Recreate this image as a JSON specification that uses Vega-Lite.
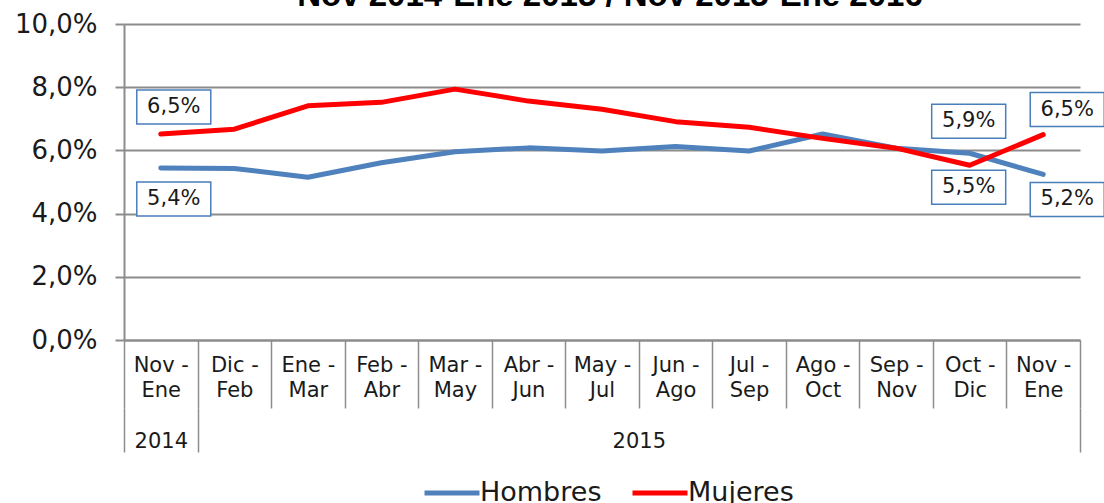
{
  "$schema": "https://vega.github.io/schema/vega-lite/v6.json",
  "width": 956,
  "height": 316,
  "autosize": "none",
  "padding": {"left": 124, "top": 24, "right": 24, "bottom": 163},
  "background": "white",
  "title": {
    "text": "Nov 2014-Ene 2015 / Nov 2015-Ene 2016",
    "font": "Liberation Sans",
    "fontSize": 33,
    "fontWeight": "bold",
    "color": "#000000",
    "anchor": "middle",
    "baseline": "alphabetic",
    "offset": -28,
    "dx": 8
  },
  "config": {
    "view": {"stroke": null},
    "font": "DejaVu Sans",
    "locale": {
      "number": {"decimal": ",", "thousands": ".", "grouping": [3], "currency": ["", " €"], "percent": "%"}
    }
  },
  "datasets": {
    "tasas": [
      {"serie": "Hombres", "periodo": "Nov - Ene 2014", "valor": 0.0544},
      {"serie": "Hombres", "periodo": "Dic - Feb 2015", "valor": 0.0543},
      {"serie": "Hombres", "periodo": "Ene - Mar 2015", "valor": 0.0515},
      {"serie": "Hombres", "periodo": "Feb - Abr 2015", "valor": 0.0561},
      {"serie": "Hombres", "periodo": "Mar - May 2015", "valor": 0.0596},
      {"serie": "Hombres", "periodo": "Abr - Jun 2015", "valor": 0.0608},
      {"serie": "Hombres", "periodo": "May - Jul 2015", "valor": 0.0598},
      {"serie": "Hombres", "periodo": "Jun - Ago 2015", "valor": 0.0612},
      {"serie": "Hombres", "periodo": "Jul - Sep 2015", "valor": 0.0598},
      {"serie": "Hombres", "periodo": "Ago - Oct 2015", "valor": 0.0652},
      {"serie": "Hombres", "periodo": "Sep - Nov 2015", "valor": 0.0607},
      {"serie": "Hombres", "periodo": "Oct - Dic 2015", "valor": 0.0591},
      {"serie": "Hombres", "periodo": "Nov - Ene 2015", "valor": 0.0524},
      {"serie": "Mujeres", "periodo": "Nov - Ene 2014", "valor": 0.0652},
      {"serie": "Mujeres", "periodo": "Dic - Feb 2015", "valor": 0.0667},
      {"serie": "Mujeres", "periodo": "Ene - Mar 2015", "valor": 0.0741},
      {"serie": "Mujeres", "periodo": "Feb - Abr 2015", "valor": 0.0752},
      {"serie": "Mujeres", "periodo": "Mar - May 2015", "valor": 0.0794},
      {"serie": "Mujeres", "periodo": "Abr - Jun 2015", "valor": 0.0756},
      {"serie": "Mujeres", "periodo": "May - Jul 2015", "valor": 0.0730},
      {"serie": "Mujeres", "periodo": "Jun - Ago 2015", "valor": 0.0691},
      {"serie": "Mujeres", "periodo": "Jul - Sep 2015", "valor": 0.0673},
      {"serie": "Mujeres", "periodo": "Ago - Oct 2015", "valor": 0.0638},
      {"serie": "Mujeres", "periodo": "Sep - Nov 2015", "valor": 0.0607},
      {"serie": "Mujeres", "periodo": "Oct - Dic 2015", "valor": 0.0553},
      {"serie": "Mujeres", "periodo": "Nov - Ene 2015", "valor": 0.0650}
    ],
    "anios": [
      {"anio": "2014", "desde": 0, "hasta": 1},
      {"anio": "2015", "desde": 1, "hasta": 13},
      {"anio": "fin", "desde": 13, "hasta": 13}
    ]
  },
  "layer": [
    {
      "data": {"name": "tasas"},
      "encoding": {
        "x": {
          "field": "periodo",
          "type": "nominal",
          "sort": null,
          "bandPosition": 0.5,
          "scale": {"type": "band", "paddingInner": 0, "paddingOuter": 0},
          "axis": {
            "title": null,
            "orient": "bottom",
            "labelAngle": 0,
            "labelExpr": "isString(datum.value) ? [split(datum.value, ' ')[0] + ' -', split(datum.value, ' ')[2]] : ''",
            "labelFont": "DejaVu Sans",
            "labelFontSize": 21,
            "labelLineHeight": 25,
            "labelColor": "#1a1a1a",
            "labelBaseline": "top",
            "labelPadding": -54,
            "labelOverlap": false,
            "labelBound": false,
            "tickBand": "extent",
            "tickSize": 68,
            "tickColor": "#8c8c8c",
            "tickWidth": 1.5,
            "domainColor": "#8c8c8c",
            "domainWidth": 2,
            "grid": false
          }
        },
        "y": {
          "field": "valor",
          "type": "quantitative",
          "scale": {"domain": [0, 0.1], "nice": false},
          "axis": {
            "title": null,
            "values": [0, 0.02, 0.04, 0.06, 0.08, 0.1],
            "format": ".1%",
            "labelFont": "DejaVu Sans",
            "labelFontSize": 26,
            "labelColor": "#1a1a1a",
            "labelPadding": 18,
            "tickSize": 9,
            "tickColor": "#8c8c8c",
            "tickWidth": 2,
            "domainColor": "#8c8c8c",
            "domainWidth": 2,
            "grid": true,
            "gridColor": "#8c8c8c",
            "gridWidth": 2
          }
        }
      },
      "layer": [
        {
          "mark": {"type": "line", "strokeWidth": 5, "strokeCap": "round", "strokeJoin": "round"},
          "encoding": {
            "color": {
              "field": "serie",
              "type": "nominal",
              "scale": {"domain": ["Hombres", "Mujeres"], "range": ["#4F81BD", "#FF0000"]},
              "legend": {
                "title": null,
                "orient": "none",
                "direction": "horizontal",
                "legendX": 298,
                "legendY": 439,
                "symbolType": "stroke",
                "symbolSize": 3025,
                "symbolStrokeWidth": 5,
                "labelFont": "DejaVu Sans",
                "labelFontSize": 27,
                "labelColor": "#1a1a1a",
                "labelOffset": -2,
                "columnPadding": 20
              }
            }
          }
        },
        {
          "transform": [{"filter": "indexof(['Nov - Ene 2014', 'Oct - Dic 2015', 'Nov - Ene 2015'], datum.periodo) >= 0"}],
          "mark": {
            "type": "point",
            "shape": "M-1,-0.46H1V0.46H-1Z",
            "size": 5476,
            "filled": false,
            "fill": "white",
            "fillOpacity": 1,
            "stroke": "#4A7EBB",
            "strokeWidth": 1.5,
            "opacity": 1,
            "xOffset": {"expr": "datum.periodo == 'Nov - Ene 2014' ? 13 : datum.periodo == 'Oct - Dic 2015' ? -1 : 24"},
            "yOffset": {"expr": "datum.periodo == 'Nov - Ene 2014' ? (datum.serie == 'Mujeres' ? -27 : 31) : datum.periodo == 'Oct - Dic 2015' ? (datum.serie == 'Hombres' ? -32 : 22) : (datum.serie == 'Mujeres' ? -25 : 25)"}
          }
        },
        {
          "transform": [{"filter": "indexof(['Nov - Ene 2014', 'Oct - Dic 2015', 'Nov - Ene 2015'], datum.periodo) >= 0"}],
          "mark": {
            "type": "text",
            "font": "DejaVu Sans",
            "fontSize": 21,
            "color": "#1a1a1a",
            "align": "center",
            "baseline": "middle",
            "xOffset": {"expr": "datum.periodo == 'Nov - Ene 2014' ? 13 : datum.periodo == 'Oct - Dic 2015' ? -1 : 24"},
            "yOffset": {"expr": "datum.periodo == 'Nov - Ene 2014' ? (datum.serie == 'Mujeres' ? -27 : 31) : datum.periodo == 'Oct - Dic 2015' ? (datum.serie == 'Hombres' ? -32 : 22) : (datum.serie == 'Mujeres' ? -25 : 25)"}
          },
          "encoding": {
            "text": {"field": "valor", "type": "quantitative", "format": ".1%"}
          }
        }
      ]
    },
    {
      "data": {"name": "anios"},
      "mark": {"type": "rule", "opacity": 0},
      "encoding": {
        "x": {
          "field": "desde",
          "type": "quantitative",
          "scale": {"domain": [0, 13], "nice": false, "zero": false},
          "axis": {
            "title": null,
            "orient": "bottom",
            "offset": 68,
            "domain": false,
            "grid": false,
            "values": [0, 0.5, 1, 7, 13],
            "labelExpr": "datum.value == 0.5 ? '2014' : datum.value == 7 ? '2015' : ''",
            "labelFont": "DejaVu Sans",
            "labelFontSize": 21,
            "labelColor": "#1a1a1a",
            "labelBaseline": "top",
            "labelPadding": -22,
            "labelFlush": false,
            "labelOverlap": false,
            "labelBound": false,
            "tickSize": 44,
            "tickColor": "#8c8c8c",
            "tickWidth": 1.5,
            "tickOpacity": {"condition": {"test": "datum.value == 0.5 || datum.value == 7", "value": 0}, "value": 1}
          }
        }
      }
    }
  ],
  "resolve": {"scale": {"x": "independent"}, "axis": {"x": "independent"}}
}
